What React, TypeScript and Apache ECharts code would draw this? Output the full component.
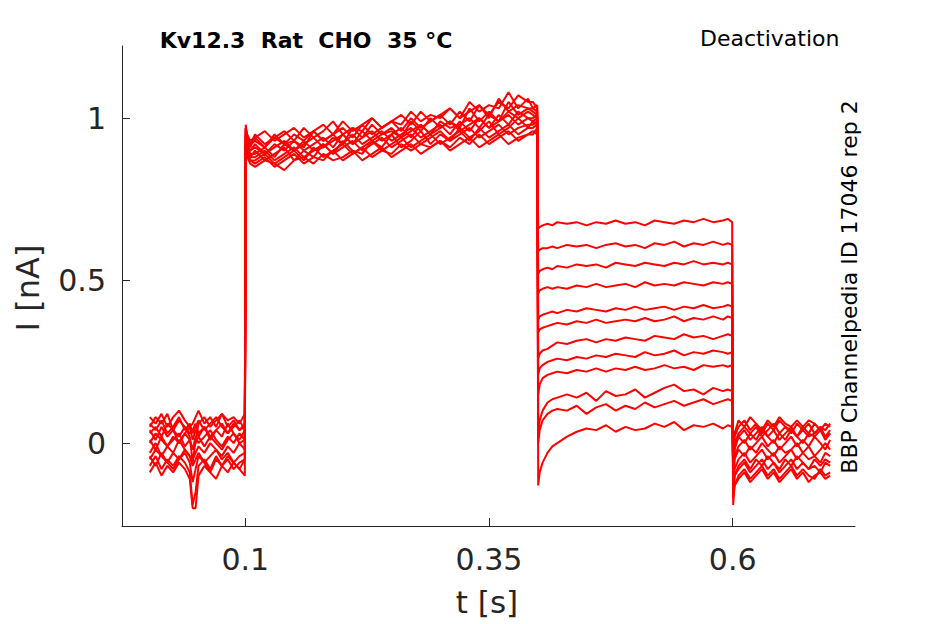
import React, { useEffect, useRef } from 'react';
import * as echarts from 'echarts';

// sample times (s) for each part of the protocol
const tBase = [0.002, 0.008, 0.014, 0.02, 0.026, 0.032, 0.038, 0.043, 0.046, 0.049, 0.052, 0.058, 0.064, 0.07, 0.076, 0.082, 0.088, 0.094, 0.0995];
const tAct = [0.1005, 0.102, 0.105, 0.11, 0.12, 0.13, 0.14, 0.15, 0.16, 0.17, 0.18, 0.19, 0.2, 0.21, 0.22, 0.23, 0.24, 0.25, 0.26, 0.27, 0.28, 0.29, 0.3, 0.31, 0.32, 0.33, 0.34, 0.35, 0.36, 0.37, 0.38, 0.39, 0.395, 0.3995];
const tDeact = [0.4005, 0.402, 0.405, 0.41, 0.415, 0.42, 0.43, 0.44, 0.45, 0.46, 0.47, 0.48, 0.49, 0.5, 0.51, 0.52, 0.53, 0.54, 0.55, 0.56, 0.57, 0.58, 0.59, 0.595, 0.5995];
const tTail = [0.6005, 0.602, 0.606, 0.612, 0.618, 0.624, 0.63, 0.636, 0.642, 0.648, 0.654, 0.66, 0.666, 0.672, 0.678, 0.684, 0.69, 0.695, 0.7];

// current (nA), one row per sweep
const baseline = [
  [0.05, 0.08, 0.06, 0.09, 0.04, 0.07, 0.05, 0.02, -0.06, 0.01, 0.06, 0.08, 0.05, 0.07, 0.09, 0.05, 0.07, 0.04, 0.06],
  [-0.03, 0.0, -0.04, -0.01, -0.03, 0.01, -0.02, -0.04, -0.05, -0.03, -0.01, -0.03, 0.0, -0.02, -0.04, -0.01, -0.03, 0.0, -0.02],
  [0.04, 0.01, 0.05, 0.02, 0.04, 0.0, 0.03, 0.05, 0.01, 0.04, 0.02, 0.05, 0.01, 0.04, 0.02, 0.06, 0.03, 0.01, 0.04],
  [-0.07, -0.04, -0.08, -0.05, -0.07, -0.04, -0.06, -0.09, -0.19, -0.15, -0.07, -0.05, -0.08, -0.04, -0.07, -0.05, -0.08, -0.06, -0.05],
  [0.08, 0.06, 0.09, 0.05, 0.08, 0.1, 0.07, 0.05, 0.06, 0.08, 0.1, 0.06, 0.08, 0.05, 0.09, 0.07, 0.08, 0.06, 0.09],
  [0.01, -0.02, 0.02, -0.01, 0.01, 0.03, -0.01, 0.01, -0.02, 0.0, 0.02, -0.01, 0.02, 0.0, -0.02, 0.01, 0.03, 0.0, 0.01],
  [0.03, 0.05, 0.02, 0.06, 0.04, 0.02, 0.05, 0.03, 0.04, 0.06, 0.03, 0.05, 0.02, 0.04, 0.06, 0.03, 0.05, 0.07, 0.04],
  [-0.09, -0.06, -0.1, -0.07, -0.09, -0.06, -0.08, -0.11, -0.2, -0.2, -0.1, -0.07, -0.09, -0.11, -0.07, -0.09, -0.06, -0.08, -0.1],
  [0.0, 0.03, 0.01, -0.01, 0.02, 0.0, 0.03, 0.01, -0.02, 0.02, 0.0, 0.02, 0.04, 0.01, -0.01, 0.02, 0.0, 0.03, 0.01],
  [-0.05, -0.02, -0.04, -0.06, -0.03, -0.05, -0.02, -0.04, -0.07, -0.05, -0.03, -0.06, -0.04, -0.02, -0.05, -0.03, -0.06, -0.04, -0.03],
  [0.06, 0.04, 0.07, 0.03, 0.05, 0.08, 0.04, 0.06, 0.03, 0.05, 0.07, 0.04, 0.06, 0.08, 0.05, 0.03, 0.06, 0.04, 0.05],
  [-0.04, -0.07, -0.03, -0.06, -0.08, -0.05, -0.03, -0.06, -0.12, -0.08, -0.04, -0.06, -0.09, -0.05, -0.07, -0.04, -0.06, -0.08, -0.05],
];

const activation = [
  [0.97, 0.93, 0.91, 0.94, 0.91, 0.95, 0.92, 0.93, 0.91, 0.96, 0.93, 0.95, 0.92, 0.97, 0.94, 0.98, 0.95, 0.96, 0.94, 0.99, 0.96, 1.0, 0.97, 0.99, 0.97, 1.03, 0.99, 1.02, 0.99, 1.05, 1.01, 1.03, 1.02, 1.01],
  [0.95, 0.91, 0.88, 0.9, 0.87, 0.89, 0.91, 0.87, 0.9, 0.88, 0.92, 0.89, 0.93, 0.9, 0.89, 0.93, 0.91, 0.95, 0.91, 0.93, 0.96, 0.92, 0.95, 0.93, 0.97, 0.94, 0.96, 0.99, 0.95, 0.97, 1.0, 0.97, 0.99, 0.98],
  [0.97, 0.94, 0.92, 0.95, 0.92, 0.94, 0.96, 0.93, 0.97, 0.94, 0.96, 0.99, 0.95, 0.97, 0.96, 1.0, 0.97, 0.99, 0.98, 1.02, 0.99, 1.01, 1.0, 1.03, 1.0, 1.05, 1.02, 1.04, 1.03, 1.08, 1.03, 1.06, 1.03, 1.04],
  [0.94, 0.89, 0.87, 0.86, 0.88, 0.85, 0.87, 0.89, 0.86, 0.88, 0.87, 0.9, 0.87, 0.89, 0.91, 0.88, 0.9, 0.89, 0.92, 0.9, 0.92, 0.91, 0.93, 0.91, 0.94, 0.92, 0.95, 0.92, 0.94, 0.96, 0.93, 0.95, 0.95, 0.97],
  [0.96, 0.92, 0.89, 0.89, 0.91, 0.88, 0.92, 0.9, 0.93, 0.9, 0.91, 0.94, 0.92, 0.95, 0.92, 0.94, 0.96, 0.93, 0.95, 0.97, 0.94, 0.96, 0.98, 0.95, 0.99, 0.96, 1.0, 0.97, 0.99, 1.01, 0.98, 1.0, 0.99, 1.0],
  [0.95, 0.91, 0.9, 0.92, 0.89, 0.91, 0.93, 0.9, 0.92, 0.94, 0.91, 0.93, 0.95, 0.92, 0.96, 0.93, 0.95, 0.97, 0.94, 0.96, 0.98, 0.95, 0.99, 0.97, 0.98, 1.0, 0.97, 1.01, 0.99, 1.02, 1.0, 1.02, 1.01, 1.0],
  [0.93, 0.9, 0.87, 0.87, 0.89, 0.86, 0.88, 0.9, 0.87, 0.91, 0.88, 0.9, 0.92, 0.89, 0.91, 0.93, 0.9, 0.92, 0.94, 0.91, 0.93, 0.95, 0.92, 0.94, 0.96, 0.93, 0.97, 0.94, 0.96, 0.98, 0.95, 0.97, 0.97, 0.98],
  [0.98, 0.93, 0.92, 0.93, 0.91, 0.94, 0.92, 0.95, 0.93, 0.96, 0.93, 0.95, 0.97, 0.94, 0.98, 0.95, 0.97, 0.99, 0.96, 1.0, 0.97, 0.99, 1.01, 0.98, 1.02, 0.99, 1.04, 1.0, 1.06, 1.02, 1.04, 1.03, 1.03, 1.02],
  [0.93, 0.88, 0.86, 0.85, 0.87, 0.86, 0.84, 0.87, 0.88, 0.86, 0.89, 0.87, 0.88, 0.9, 0.87, 0.89, 0.91, 0.88, 0.9, 0.92, 0.89, 0.91, 0.93, 0.9, 0.92, 0.94, 0.91, 0.93, 0.95, 0.92, 0.94, 0.95, 0.96, 0.95],
  [0.96, 0.92, 0.9, 0.91, 0.89, 0.92, 0.9, 0.93, 0.9, 0.92, 0.94, 0.91, 0.95, 0.92, 0.94, 0.96, 0.93, 0.95, 0.97, 0.94, 0.98, 0.95, 0.97, 0.99, 0.96, 0.98, 1.0, 0.97, 1.01, 0.98, 1.02, 1.0, 1.0, 1.01],
  [0.94, 0.9, 0.88, 0.88, 0.9, 0.87, 0.89, 0.91, 0.88, 0.9, 0.92, 0.89, 0.91, 0.93, 0.9, 0.92, 0.94, 0.91, 0.93, 0.95, 0.92, 0.94, 0.96, 0.93, 0.95, 0.97, 0.94, 0.96, 0.98, 0.95, 0.97, 0.98, 0.98, 0.99],
  [0.97, 0.95, 0.93, 0.94, 0.96, 0.93, 0.95, 0.97, 0.94, 0.96, 0.98, 0.95, 0.99, 0.96, 0.98, 1.0, 0.97, 0.99, 1.01, 0.98, 1.02, 0.99, 1.01, 1.03, 1.0, 1.02, 1.04, 1.01, 1.05, 1.03, 1.07, 1.05, 1.05, 1.03],
];

const deactivation = [
  [0.66, 0.665, 0.67, 0.675, 0.67, 0.68, 0.675, 0.68, 0.67, 0.68, 0.675, 0.685, 0.675, 0.68, 0.67, 0.685, 0.68, 0.675, 0.685, 0.68, 0.69, 0.68, 0.685, 0.69, 0.68],
  [0.59, 0.595, 0.6, 0.6, 0.605, 0.6, 0.61, 0.605, 0.61, 0.6, 0.61, 0.615, 0.605, 0.61, 0.6, 0.615, 0.61, 0.62, 0.605, 0.615, 0.61, 0.62, 0.61, 0.615, 0.61],
  [0.52, 0.53, 0.535, 0.54, 0.535, 0.545, 0.54, 0.55, 0.545, 0.55, 0.54, 0.555, 0.55, 0.545, 0.555, 0.55, 0.545, 0.555, 0.55, 0.56, 0.55, 0.555, 0.55, 0.555, 0.55],
  [0.46, 0.47, 0.475, 0.48, 0.475, 0.48, 0.475, 0.485, 0.48, 0.49, 0.48, 0.485, 0.49, 0.48, 0.495, 0.485, 0.49, 0.485, 0.495, 0.49, 0.485, 0.495, 0.49, 0.495, 0.49],
  [0.38, 0.39, 0.395, 0.4, 0.405, 0.4, 0.41, 0.405, 0.415, 0.41, 0.405, 0.415, 0.41, 0.42, 0.41, 0.415, 0.42, 0.41, 0.42, 0.415, 0.425, 0.415, 0.42, 0.425, 0.42],
  [0.34, 0.35, 0.355, 0.36, 0.365, 0.37, 0.365, 0.375, 0.37, 0.38, 0.37, 0.375, 0.38, 0.375, 0.385, 0.375, 0.38, 0.39, 0.375, 0.385, 0.38, 0.39, 0.38, 0.39, 0.385],
  [0.26, 0.275, 0.285, 0.29, 0.3, 0.31, 0.305, 0.315, 0.32, 0.31, 0.32, 0.315, 0.325, 0.32, 0.315, 0.33, 0.325, 0.32, 0.335, 0.325, 0.33, 0.32, 0.33, 0.335, 0.33],
  [0.21, 0.23, 0.24, 0.25, 0.255, 0.26, 0.255, 0.265, 0.26, 0.27, 0.265, 0.275, 0.27, 0.265, 0.28, 0.27, 0.275, 0.285, 0.27, 0.28, 0.275, 0.285, 0.28, 0.275, 0.28],
  [0.15, 0.18, 0.2, 0.21, 0.215, 0.22, 0.215, 0.225, 0.22, 0.23, 0.22, 0.23, 0.225, 0.235, 0.225, 0.23, 0.24, 0.23, 0.235, 0.225, 0.24, 0.235, 0.24, 0.235, 0.24],
  [0.03, 0.07, 0.1, 0.125, 0.135, 0.14, 0.15, 0.14, 0.155, 0.13, 0.16, 0.145, 0.15, 0.165, 0.14, 0.155, 0.17, 0.18, 0.16, 0.165, 0.15, 0.17, 0.16, 0.165, 0.16],
  [0.0, 0.04, 0.07, 0.09, 0.1, 0.105, 0.1, 0.115, 0.09, 0.11, 0.12, 0.1, 0.115, 0.105, 0.125, 0.11, 0.12, 0.13, 0.115, 0.125, 0.135, 0.12, 0.13, 0.135, 0.13],
  [-0.13, -0.09, -0.06, -0.03, -0.01, 0.0, 0.02, 0.035, 0.045, 0.04, 0.055, 0.035, 0.05, 0.04, 0.045, 0.06, 0.05, 0.065, 0.04, 0.055, 0.05, 0.06, 0.045, 0.055, 0.05],
];

const tail = [
  [-0.19, -0.13, -0.1, -0.08, -0.11, -0.09, -0.07, -0.1, -0.08, -0.11, -0.09, -0.07, -0.1, -0.08, -0.1, -0.11, -0.08, -0.1, -0.09],
  [-0.17, -0.1, -0.07, -0.05, -0.08, -0.05, -0.07, -0.04, -0.06, -0.08, -0.05, -0.07, -0.04, -0.06, -0.08, -0.05, -0.07, -0.05, -0.06],
  [-0.06, 0.02, 0.05, 0.07, 0.04, 0.06, 0.03, 0.06, 0.04, 0.07, 0.05, 0.03, 0.06, 0.04, 0.06, 0.03, 0.05, 0.04, 0.06],
  [-0.12, -0.05, -0.02, -0.04, -0.01, -0.03, 0.0, -0.02, -0.04, -0.01, -0.03, -0.02, 0.0, -0.03, -0.01, -0.04, -0.02, 0.0, -0.02],
  [-0.09, -0.02, 0.02, 0.0, 0.03, 0.01, 0.04, 0.02, 0.0, 0.03, 0.01, 0.04, 0.02, 0.0, 0.03, 0.02, 0.04, 0.01, 0.03],
  [-0.16, -0.13, -0.11, -0.09, -0.12, -0.1, -0.08, -0.11, -0.09, -0.12, -0.1, -0.08, -0.11, -0.09, -0.12, -0.1, -0.09, -0.11, -0.1],
  [-0.04, 0.03, 0.07, 0.05, 0.08, 0.06, 0.04, 0.07, 0.05, 0.08, 0.06, 0.05, 0.07, 0.05, 0.07, 0.06, 0.04, 0.06, 0.05],
  [-0.14, -0.08, -0.05, -0.03, -0.06, -0.04, -0.02, -0.05, -0.03, -0.06, -0.04, -0.02, -0.05, -0.03, -0.05, -0.04, -0.06, -0.03, -0.04],
  [-0.1, -0.04, -0.01, 0.01, -0.02, 0.0, 0.02, -0.01, 0.01, -0.02, 0.0, 0.02, -0.01, 0.01, -0.01, 0.02, 0.0, -0.02, 0.01],
  [-0.08, -0.01, 0.02, 0.04, 0.01, 0.03, 0.05, 0.02, 0.04, 0.01, 0.03, 0.05, 0.02, 0.04, 0.02, 0.03, 0.05, 0.02, 0.03],
  [-0.15, -0.1, -0.08, -0.06, -0.09, -0.07, -0.05, -0.08, -0.06, -0.09, -0.07, -0.05, -0.08, -0.06, -0.08, -0.07, -0.09, -0.06, -0.07],
  [-0.07, 0.0, 0.03, 0.05, 0.03, 0.05, 0.02, 0.04, 0.06, 0.03, 0.05, 0.04, 0.02, 0.05, 0.03, 0.06, 0.04, 0.02, 0.04],
];

const xTicks = [0.1, 0.35, 0.6];
const yTicks = [0, 0.5, 1];

const AXIS = '#262626';
const FONT = '"DejaVu Sans", sans-serif';

const App: React.FC = () => {
  const chartRef = useRef<HTMLDivElement>(null);

  useEffect(() => {
    const chart = echarts.init(chartRef.current!, null, { renderer: 'svg' });

    const series = baseline.map((_, i) => {
      const pts: number[][] = [];
      tBase.forEach((t, j) => pts.push([t, baseline[i][j]]));
      tAct.forEach((t, j) => pts.push([t, activation[i][j]]));
      tDeact.forEach((t, j) => pts.push([t, deactivation[i][j]]));
      tTail.forEach((t, j) => pts.push([t, tail[i][j]]));
      return {
        type: 'line',
        data: pts,
        showSymbol: false,
        silent: true,
        lineStyle: { color: '#ff0000', width: 2 },
      };
    });

    chart.setOption({
      animation: false,
      grid: { left: 122, top: 46, right: 90, bottom: 98 },
      xAxis: {
        type: 'value',
        min: -0.0265,
        max: 0.7255,
        axisLine: { onZero: false, lineStyle: { color: AXIS, width: 1 } },
        axisTick: { inside: true, length: 8, customValues: xTicks, lineStyle: { color: AXIS } },
        axisLabel: { customValues: xTicks, fontSize: 30, color: AXIS, fontFamily: FONT, margin: 18 },
        splitLine: { show: false },
      },
      yAxis: {
        type: 'value',
        min: -0.255,
        max: 1.222,
        axisLine: { show: true, onZero: false, lineStyle: { color: AXIS, width: 1 } },
        axisTick: { show: true, inside: true, length: 8, customValues: yTicks, lineStyle: { color: AXIS } },
        axisLabel: { customValues: yTicks, fontSize: 30, color: AXIS, fontFamily: FONT, margin: 16 },
        splitLine: { show: false },
      },
      graphic: [
        {
          type: 'text', x: 306, y: 40,
          style: { text: 'Kv12.3  Rat  CHO  35 °C', fontSize: 22, fontWeight: 'bold', fontFamily: FONT, fill: '#000', align: 'center', verticalAlign: 'middle', textAlign: 'center', textVerticalAlign: 'middle' },
        },
        {
          type: 'text', x: 700, y: 38,
          style: { text: 'Deactivation', fontSize: 22, fontFamily: FONT, fill: '#000', align: 'left', verticalAlign: 'middle', textAlign: 'left', textVerticalAlign: 'middle' },
        },
        {
          type: 'text', x: 849, y: 287, rotation: Math.PI / 2,
          style: { text: 'BBP Channelpedia ID 17046 rep 2', fontSize: 22, fontFamily: FONT, fill: '#000', align: 'center', verticalAlign: 'middle', textAlign: 'center', textVerticalAlign: 'middle' },
        },
        {
          type: 'text', x: 28, y: 288, rotation: Math.PI / 2,
          style: { text: 'I [nA]', fontSize: 32, fontFamily: FONT, fill: AXIS, align: 'center', verticalAlign: 'middle', textAlign: 'center', textVerticalAlign: 'middle' },
        },
        {
          type: 'text', x: 487, y: 602,
          style: { text: 't [s]', fontSize: 31, fontFamily: FONT, fill: AXIS, align: 'center', verticalAlign: 'middle', textAlign: 'center', textVerticalAlign: 'middle' },
        },
      ],
      series,
    });

    return () => {
      chart.dispose();
    };
  }, []);

  return (
    <div
      ref={chartRef}
      style={{ position: 'absolute', left: 0, top: 0, width: 945, height: 624, background: '#fff' }}
    />
  );
};

export default App;
